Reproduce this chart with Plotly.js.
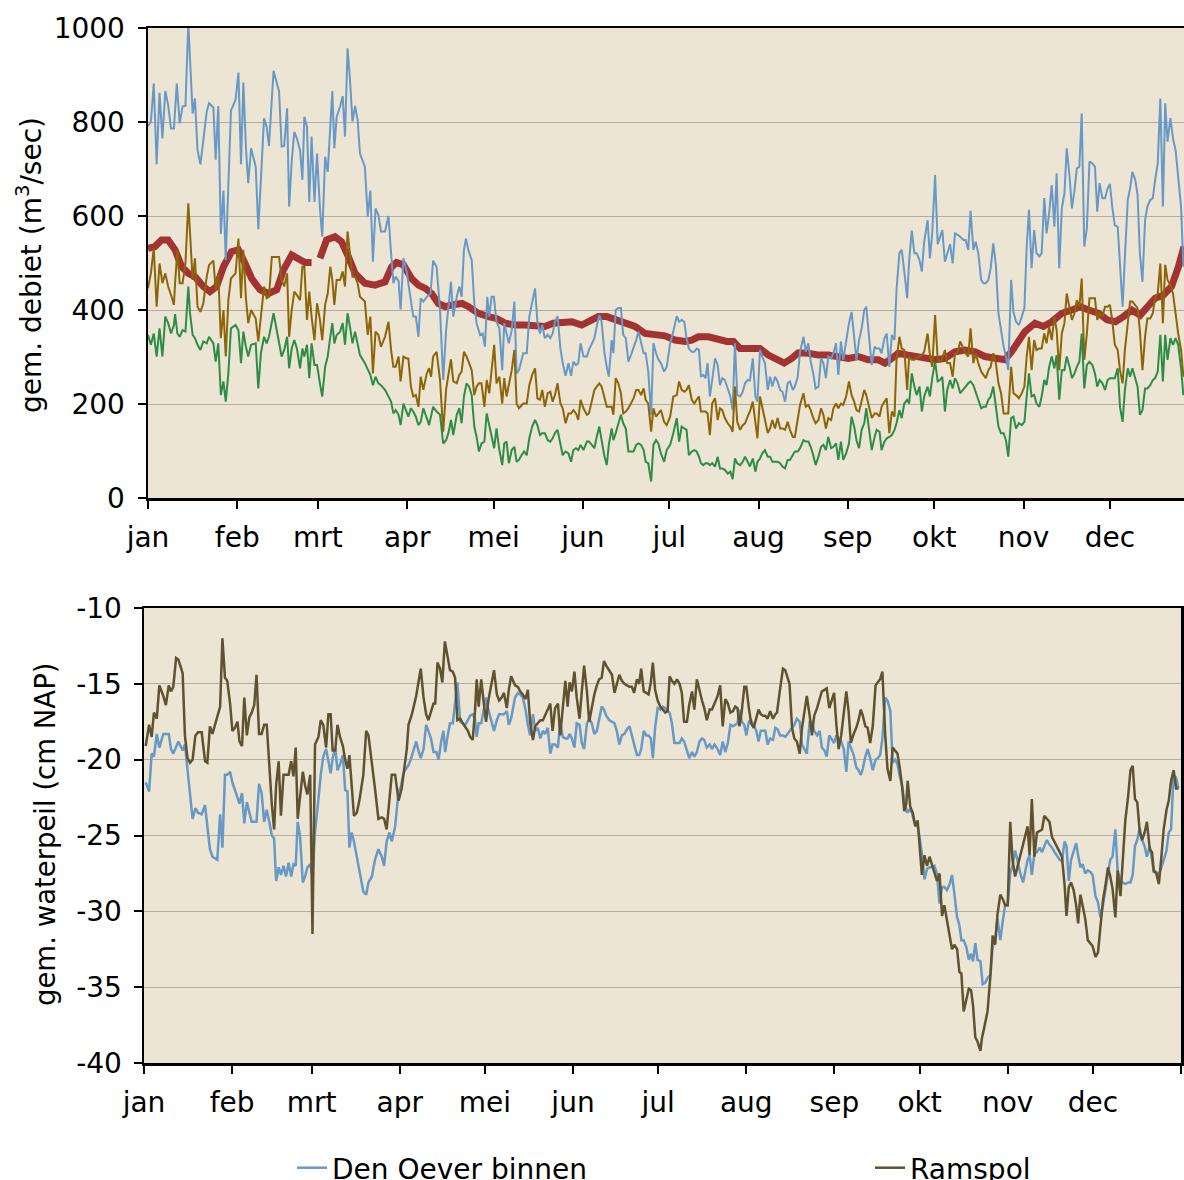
<!DOCTYPE html>
<html>
<head>
<meta charset="utf-8">
<script src="https://cdn.plot.ly/plotly-3.0.1.min.js"></script>
<style>html,body{margin:0;padding:0;background:#fff;}#chart{width:1184px;height:1180px;}</style>
</head>
<body>
<div id="chart"></div>
<script>
// ---------- axis labels ----------
const monthLabels = ['jan','feb','mrt','apr','mei','jun','jul','aug','sep','okt','nov','dec'];
const monthStarts = [0,31,59,90,120,151,181,212,243,273,304,334];
const yearEnd = [365];
const debietTicks = [0,200,400,600,800,1000];
const peilTicks = [-40,-35,-30,-25,-20,-15,-10];
const peilTickText = ['-40','-35','-30','-25','-20','-15','-10'];

// ---------- top chart: gem. debiet (m3/sec), [day of year, value] ----------
const debietBlue = [[0,791],[1,800],[2,882],[3,710],[4,862],[5,765],[6,866],[7,836],[8,786],[9,786],[10,882],[11,797],[12,833],[13,834],[14,1010],[14.6,932],[15.5,818],[16.3,850],[17.2,740],[18.2,710],[19.2,765],[20.4,822],[21.2,840],[22.7,831],[23.5,720],[24.4,834],[25.3,562],[26.2,654],[27,506],[27.9,655],[28.8,824],[30.4,847],[31.4,905],[32.3,710],[33.1,884],[34,746],[34.8,670],[35.8,744],[37.4,705],[38.3,572],[39.2,694],[40.3,808],[41.2,790],[42,749],[43.6,909],[44.7,882],[45.5,865],[46.4,748],[47.3,749],[48.3,829],[49,620],[49.9,716],[50.8,779],[51.7,765],[52.8,740],[53.6,677],[54.3,811],[55.2,790],[56,630],[56.8,769],[57.8,630],[58.7,733],[59.7,616],[60.5,556],[61.5,726],[62.4,694],[63.3,808],[64,866],[64.7,744],[65.5,811],[66.7,833],[67.6,855],[68.4,769],[69.3,957],[70.1,893],[71,801],[71.9,834],[72.8,804],[73.6,733],[75.3,705],[76.3,599],[77.2,654],[78.1,503],[79,616],[80,602],[80.9,567],[82.3,567],[83.5,600],[84.4,521],[85.2,457],[86,471],[87,462],[87.7,401],[88.7,510],[89.8,482],
[90.4,457],[91.3,421],[92.1,386],[93,386],[93.9,343],[94.7,425],[95.6,418],[96.8,428],[98.1,435],[99,505],[100.2,492],[101.4,400],[102.5,251],[103.5,357],[104.3,407],[105.2,460],[106,386],[107.2,428],[108.1,450],[108.9,428],[109.7,528],[110.4,552],[111.2,528],[112.4,506],[113.3,414],[114.1,372],[115.3,347],[116.2,350],[117,322],[117.8,428],[118.5,386],[119.3,428],[120.1,428],[121,375],[122,361],[123,272],[123.7,372],[124.5,347],[125.3,329],[126.3,357],[127.2,418],[128,265],[128.8,272],[130.3,308],[131.5,308],[132.4,386],[133.4,414],[134.4,446],[135.2,375],[136.1,350],[136.9,368],[137.8,340],[138.8,347],[139.7,340],[140.5,350],[141.3,375],[142.2,387],[143.2,318],[144,287],[145,260],[146,287],[146.9,260],[147.7,290],[148.6,283],[149.4,287],[150.2,329],[151.2,301],[152.4,301],[153.1,315],[154.1,329],[155,340],[155.8,365],[156.7,389],[157.5,375],[158.5,308],[159.3,279],[160,258],[161,336],[161.6,308],[162.4,400],[163.3,404],[164.2,404],[165,347],[165.9,340],[166.8,290],[167.7,304],[168.6,318],[169.5,336],[170.3,354],[171.2,333],[172.1,308],[172.8,308],[173.7,269],[174.7,177],[175.5,329],[176.4,308],[177.2,295],[178.1,287],[179.2,269],[180.1,279],
[181.3,329],[182.4,354],[183.6,387],[184.4,375],[185.3,379],[186.2,375],[187,340],[187.8,318],[188.8,311],[189.7,311],[190.5,318],[191.3,315],[192,258],[192.8,262],[193.6,255],[194.3,287],[195.1,216],[195.9,251],[196.9,297],[197.8,283],[198.6,240],[199.4,255],[200.3,251],[201.3,233],[202.2,216],[203,187],[203.8,329],[204.6,219],[205.6,216],[206.5,226],[207.3,244],[208.2,251],[209,250],[210,297],[210.9,216],[211.6,205],[212.5,315],[213.3,301],[214.2,287],[215.2,230],[216,258],[216.8,237],[217.7,258],[218.6,248],[219.5,230],[220.3,226],[221.2,205],[222.1,244],[222.9,248],[223.9,230],[224.6,237],[225.6,258],[226.4,311],[227.6,343],[228.4,311],[229.3,329],[230.1,290],[231,265],[231.8,233],[232.8,237],[233.7,297],[234.5,287],[235.4,255],[236.2,301],[237.2,297],[238,308],[238.9,329],[239.7,262],[240.6,333],[241.4,294],[242.4,333],[243.4,372],[244.3,396],[245.2,347],[246,294],[246.9,336],[247.8,361],[248.7,400],[249.4,407],[250.4,340],[251.3,283],[252.3,322],[253,318],[254,318],[254.7,308],[255.7,340],[256.5,350],[257.4,279],[258.3,347],[259.2,336],[259.9,443],[260.9,521],[261.7,528],[262.6,482],[263.6,425],[264.3,506],[265.2,569],[266.1,521],[266.9,521],[267.9,506],[268.7,482],[269.5,545],[270.7,591],
[271.5,510],[272.3,563],[273.3,687],[274.2,540],[275,555],[275.8,570],[276.7,503],[277.5,521],[278.5,540],[279.4,499],[280.2,563],[281.1,560],[282,556],[283.1,549],[283.9,549],[284.8,528],[285.6,611],[286.6,528],[287.4,545],[288.3,521],[289.3,464],[290.1,457],[290.9,457],[291.8,464],[292.6,489],[293.5,542],[294.4,496],[295.3,393],[296.2,354],[297.1,322],[297.9,301],[298.7,272],[299.7,464],[300.5,396],[301.4,375],[302.4,368],[303.4,386],[304.3,404],[305.1,535],[305.9,613],[306.8,489],[307.7,570],[308.5,521],[309.5,514],[310.3,521],[311.2,638],[312,563],[312.9,606],[313.8,666],[314.7,577],[315.5,691],[316.4,489],[317.3,616],[318.2,648],[319,744],[320,684],[320.8,616],[321.7,655],[322.5,701],[323.4,705],[324.2,818],[325.1,535],[326,574],[326.9,716],[327.9,712],[328.8,705],[329.6,609],[330.4,670],[331.4,638],[332.3,638],[333.2,659],[334,668],[334.8,620],[335.7,580],[336.7,577],[337.5,492],[338.4,407],[339.2,514],[340.2,634],[341,659],[341.8,694],[342.8,677],[343.6,645],[344.4,521],[345.3,460],[346.2,591],[347,620],[348,634],[348.9,638],[349.7,677],[350.6,712],[351.5,850],[352.4,620],[353.2,840],[354,758],[355,808],[355.9,765],[356.8,740],[357.7,684],[358.7,620],[359.5,492]];

const debietOchre = [[0,446],[1,478],[2,531],[3,407],[4,499],[5,457],[6,478],[7,450],[8,432],[9,411],[9.4,457],[10.2,528],[11,457],[12,457],[13,499],[14,627],[14.6,563],[15.5,464],[16.3,510],[17.2,407],[18.2,396],[19.2,414],[20.4,471],[21.2,496],[22.7,505],[23.5,443],[24.4,478],[25.3,340],[26.2,400],[27,301],[27.9,421],[28.8,467],[30.4,478],[31.4,552],[32.3,425],[33.1,528],[34,425],[34.8,372],[35.8,400],[37.4,382],[38.3,333],[39.2,393],[40.3,450],[41.2,425],[42,428],[43,513],[44.1,513],[45.5,513],[46.4,464],[47.3,450],[48.3,478],[49,343],[49.9,400],[50.8,439],[51.7,432],[52.8,421],[53.6,492],[54.3,492],[55.2,379],[56,439],[56.8,386],[57.8,336],[58.7,414],[59.7,379],[60.5,336],[61.5,411],[62.4,435],[63.3,492],[64,464],[64.7,411],[65.5,464],[66.7,464],[67.6,482],[68.4,450],[69.3,567],[70.1,521],[71,471],[71.9,471],[72.8,457],[73.6,428],[75.3,418],[76.3,347],[77.2,386],[78.1,265],[79,354],[80,347],[80.9,322],[82.3,343],[83.5,375],[84.4,315],[85.2,279],[86,279],[87,301],[87.7,248],[88.7,301],[89.8,297],
[90.4,297],[91.3,237],[92.1,216],[93,219],[93.9,194],[94.7,258],[95.6,230],[96.8,265],[97.6,276],[98.3,258],[99,301],[100.2,311],[101.4,251],[102.5,141],[103.5,230],[104.3,262],[105.2,295],[106,248],[107.2,244],[108.1,262],[108.9,269],[109.7,311],[110.6,301],[111.5,287],[112.4,272],[113.3,219],[114.1,237],[114.9,244],[115.8,244],[116.8,194],[117.6,251],[118.5,223],[119.3,272],[120.2,326],[121,244],[122,258],[123,201],[123.7,255],[124.5,216],[125.3,244],[126.3,272],[127.2,315],[128,201],[128.8,191],[130.3,201],[131.5,201],[132.4,240],[133.4,262],[134.4,276],[135.2,212],[136.1,209],[136.9,230],[137.8,194],[138.8,223],[139.7,226],[140.5,205],[141.3,219],[142.2,244],[143.2,201],[144,191],[145,159],[146,180],[146.9,180],[147.7,187],[148.6,180],[149.4,166],[150.2,209],[151.2,191],[152.4,177],[153.1,180],[154.1,209],[155,230],[155.8,237],[156.7,244],[157.5,237],[158.5,216],[159.3,194],[160,194],[161,194],[161.6,177],[162.4,255],[163.3,244],[164.2,223],[165,180],[165.9,184],[166.8,191],[167.7,201],[168.6,212],[169.5,230],[170.3,230],[171.2,219],[172.1,233],[172.8,209],[173.7,201],[174.7,141],[175.5,191],[176.4,173],[177.2,180],[178.1,187],[179.2,162],[180.1,155],
[181.3,173],[182.4,216],[183.6,219],[184.4,248],[185.3,230],[186.2,226],[187,230],[187.8,240],[188.8,209],[189.7,201],[190.5,209],[191.3,216],[192,184],[192.8,184],[193.6,184],[194.3,180],[195.1,134],[195.9,201],[196.9,212],[197.8,166],[198.6,191],[199.4,187],[200.3,170],[201.3,159],[202.2,152],[203,141],[203.8,237],[204.6,162],[205.6,145],[206.5,155],[207.3,159],[208.2,173],[209,184],[210,205],[210.9,166],[211.6,127],[212.5,216],[213.3,191],[214.2,170],[215.2,138],[216,148],[216.8,166],[217.7,148],[218.6,170],[219.5,148],[220.3,148],[221.2,145],[222.1,162],[222.9,145],[223.9,130],[224.6,130],[225.6,166],[226.4,198],[227.6,223],[228.4,194],[229.3,198],[230.1,187],[231,170],[231.8,159],[232.8,166],[233.7,191],[234.5,177],[235.4,148],[236.2,170],[237.2,166],[238,191],[238.9,201],[239.7,191],[240.6,201],[241.4,198],[242.4,216],[243.4,248],[244.3,219],[245.2,205],[246,187],[246.9,184],[247.8,209],[248.7,230],[249.4,219],[250.4,194],[251.3,170],[252.3,180],[253,180],[254,173],[254.7,194],[255.7,205],[256.5,212],[257.4,138],[258.3,184],[259.2,173],[259.9,294],[260.9,343],[261.7,318],[262.6,315],[263.6,230],[264.3,301],[265.2,294],[266.1,294],[266.9,297],[267.9,301],[268.7,304],[269.5,311],[270.7,350],
[271.5,304],[272.3,279],[273.3,389],[274.2,294],[275,290],[275.8,297],[276.7,315],[277.5,287],[278.5,287],[279.4,258],[280.2,308],[281.1,308],[282,333],[283.1,318],[283.9,308],[284.8,301],[285.6,361],[286.6,287],[287.4,308],[288.3,287],[289.3,269],[290.1,262],[290.9,255],[291.8,272],[292.6,279],[293.5,308],[294.4,287],[295.3,244],[296.2,223],[297.1,180],[297.9,180],[298.7,180],[299.7,279],[300.5,223],[301.4,219],[302.4,212],[303.4,223],[304.3,237],[305.1,301],[305.9,343],[306.8,272],[307.7,336],[308.5,315],[309.5,318],[310.3,318],[311.2,350],[312,329],[312.9,365],[313.8,336],[314.7,386],[315.5,357],[316.4,272],[317.3,350],[318.2,372],[319,435],[320,400],[320.8,379],[321.7,393],[322.5,421],[323.4,407],[324.2,467],[325.1,294],[326,350],[326.9,425],[327.9,425],[328.8,425],[329.6,379],[330.4,393],[331.4,386],[332.3,407],[333.2,407],[334,411],[334.8,379],[335.7,326],[336.7,315],[337.5,272],[338.4,244],[339.2,315],[340.2,372],[341,418],[341.8,418],[342.8,411],[343.6,404],[344.4,357],[345.3,272],[346.2,343],[347,382],[348,382],[348.9,393],[349.7,428],[350.6,435],[351.5,499],[352.4,372],[353.2,496],[354,464],[355,453],[355.9,435],[356.8,393],[357.7,350],[358.7,315],[359.5,258]];

const debietGreen = [[0,347],[1,326],[2,350],[3,301],[4,361],[5,301],[6,386],[7,372],[8,350],[9,368],[9.4,391],[10.2,350],[11,343],[12,357],[13,354],[14,450],[14.6,393],[15.5,347],[16.3,340],[17.2,326],[18.2,315],[19.2,333],[20.4,329],[21.2,343],[22.7,329],[23.5,290],[24.4,329],[25.3,219],[26.2,248],[27,205],[27.9,265],[28.8,361],[30.4,368],[31.4,357],[32.3,287],[33.1,354],[34,322],[34.8,301],[35.8,326],[37.4,329],[38.3,233],[39.2,308],[40.3,343],[41.2,329],[42,343],[43.6,393],[44.7,357],[46.4,301],[47.3,315],[48.3,343],[49,276],[49.9,318],[50.8,336],[51.7,318],[52.8,276],[53.6,318],[54.3,301],[55.2,326],[56,255],[56.8,329],[57.8,283],[58.7,283],[59.7,244],[60.5,216],[61.5,279],[62.4,301],[63.3,343],[64,372],[64.7,329],[65.5,347],[66.7,354],[67.6,372],[68.4,326],[69.3,393],[70.1,365],[71,329],[71.9,354],[72.8,329],[73.6,304],[75.3,287],[76.3,272],[77.2,262],[78.1,240],[79,258],[80,244],[80.9,240],[82.3,230],[83.5,216],[84.4,205],[85.2,180],[86,187],[87,177],[87.7,155],[88.7,201],[89.8,184],
[90.4,173],[91.3,191],[92.1,184],[93,173],[93.9,155],[94.7,162],[95.6,191],[96.8,170],[97.6,155],[99,194],[100.2,184],[101.4,177],[102.5,116],[103.5,123],[104.3,138],[105.2,166],[106,134],[107.2,177],[108.1,191],[108.9,159],[109.7,216],[110.6,244],[111.5,237],[112.4,219],[113.3,152],[114.1,130],[114.9,99],[115.8,116],[116.8,120],[117.6,180],[118.5,155],[119.3,127],[120.2,106],[121,148],[122,102],[123,70],[123.7,116],[124.5,120],[125.3,74],[126.3,102],[127.2,109],[128,77],[128.8,81],[129.7,91],[130.6,99],[131.5,91],[132.4,127],[133.4,152],[134.4,166],[135.2,155],[136.1,134],[136.9,138],[137.8,138],[138.8,123],[139.7,120],[140.5,127],[141.3,138],[142.2,145],[143.2,116],[144,91],[145,99],[146,95],[146.9,77],[147.7,102],[148.6,106],[149.4,102],[150.2,113],[151.2,102],[152.4,120],[153.1,120],[154.1,113],[155,106],[155.8,130],[156.7,152],[157.5,123],[158.5,88],[159.3,70],[160,113],[161,148],[161.6,123],[162.4,138],[163.3,159],[164.2,177],[165,159],[165.9,148],[166.8,99],[167.7,99],[168.6,99],[169.5,113],[170.3,116],[171.2,113],[172.1,102],[172.8,77],[173.7,74],[174.7,35],[175.5,113],[176.4,123],[177.2,116],[178.1,95],[179.2,77],[180.1,102],
[181.3,113],[182.4,138],[183.6,170],[184.4,120],[185.3,152],[186.2,148],[187,145],[187.8,91],[188.8,99],[189.7,102],[190.5,99],[191.3,88],[192,74],[192.8,70],[193.6,74],[194.3,74],[195.1,70],[195.9,74],[196.9,67],[197.8,88],[198.6,63],[199.4,63],[200.3,60],[201.3,52],[202.2,56],[203,40],[203.8,84],[204.6,74],[205.6,70],[206.5,77],[207.3,88],[208.2,77],[209,67],[210,84],[210.9,56],[211.6,77],[212.5,84],[213.3,95],[214.2,102],[215.2,88],[216,88],[216.8,77],[217.7,77],[218.6,77],[219.5,74],[220.3,67],[221.2,63],[222.1,81],[222.9,81],[223.9,91],[224.6,99],[225.6,99],[226.4,106],[227.6,123],[228.4,120],[229.3,120],[230.1,109],[231,91],[231.8,70],[232.8,88],[233.7,109],[234.5,113],[235.4,102],[236.2,130],[237.2,106],[238,109],[238.9,116],[239.7,81],[240.6,120],[241.4,81],[242.4,95],[243.4,116],[244.3,173],[245.2,152],[246,123],[246.9,106],[247.8,145],[248.7,159],[249.4,191],[250.4,145],[251.3,102],[252.3,130],[253,145],[254,141],[254.7,102],[255.7,120],[256.5,127],[257.4,130],[258.3,134],[259.2,145],[259.9,159],[260.9,187],[261.7,170],[262.6,201],[263.6,209],[264.3,201],[265.2,265],[266.1,237],[266.9,219],[267.9,237],[268.7,184],[269.5,216],[270.7,237],
[271.5,216],[272.3,255],[273.3,290],[274.2,248],[275,251],[275.8,258],[276.7,184],[277.5,230],[278.5,251],[279.4,233],[280.2,255],[281.1,244],[282,223],[283.1,230],[283.9,237],[284.8,244],[285.6,248],[286.6,240],[287.4,226],[288.3,212],[289.3,191],[290.1,194],[290.9,194],[291.8,209],[292.6,216],[293.5,237],[294.4,194],[295.3,152],[296.2,138],[297.1,138],[297.9,123],[298.7,88],[299.7,170],[300.5,173],[301.4,148],[302.4,159],[303.4,155],[304.3,162],[305.1,216],[305.9,265],[306.8,216],[307.7,219],[308.5,201],[309.5,194],[310.3,216],[311.2,251],[312,240],[312.9,279],[313.8,301],[314.7,276],[315.5,304],[316.4,209],[317.3,272],[318.2,272],[319,301],[320,279],[320.8,255],[321.7,265],[322.5,279],[323.4,290],[324.2,350],[325.1,233],[326,283],[326.9,290],[327.9,283],[328.8,265],[329.6,237],[330.4,251],[331.4,244],[332.3,230],[333.2,251],[334,255],[334.8,255],[335.7,255],[336.7,276],[337.5,194],[338.4,162],[339.2,230],[340.2,276],[341,258],[341.8,276],[342.8,255],[343.6,237],[344.4,177],[345.3,187],[346.2,233],[347,233],[348,240],[348.9,251],[349.7,255],[350.6,269],[351.5,347],[352.4,248],[353.2,347],[354,294],[355,340],[355.9,326],[356.8,340],[357.7,326],[358.7,276],[359.5,219]];

const debietSmooth = [[0,531],[2.4,535],[4.7,549],[7,549],[9.4,528],[11.7,492],[14,478],[16.3,471],[19.2,450],[21.5,439],[23.8,450],[26.2,492],[29,524],[31.4,528],[33.7,499],[36,467],[38.9,443],[41.8,435],[44.7,443],[47,485],[49.9,517],[52.2,510],[54.5,501],[56.8,501],[58,null],[59.7,510],[62,549],[64.9,556],[67.2,545],[69.6,513],[71.9,478],[75.3,457],[78.8,453],[82.3,460],[84.6,492],[86.3,501],[88.7,496],[91.5,467],[93.9,453],[96.3,446],[98.5,435],[100.8,414],[103.2,407],[105.5,411],[109,414],[111.3,407],[114.7,393],[118.2,386],[121,382],[124,372],[127.5,368],[130.9,368],[134.4,365],[137.8,365],[140.7,372],[143.6,375],[147.1,375],[150.6,368],[153.5,379],[156.4,386],[159.3,386],[162.1,379],[165.6,372],[169.1,365],[172.6,350],[176,347],[179.5,345],[183,336],[186.5,333],[188.8,336],[191.1,343],[194.6,343],[198.1,336],[201,333],[203.3,333],[205.6,318],[208.5,318],[212.5,318],[215.4,304],[218.3,294],[220.9,287],[223.5,297],[225.8,309],[229.3,308],[232.8,304],[236.2,304],[239.7,301],[243.2,297],[246.6,301],[250.1,294],[253.6,294],[255.9,287],[258.2,297],[260.5,308],[264,304],[267.5,301],[270.5,297],[273.3,294],[276.7,297],[280.2,311],[283.7,315],[287.2,311],[290.6,301],[294.1,297],[297.5,294],[299.8,311],[302.2,336],[304.5,354],[308,372],[310.9,365],[313.8,375],[317.3,393],[320.8,400],[323.7,407],[326.6,400],[330.1,393],[333,379],[335.9,375],[338.7,386],[341.6,400],[344.5,389],[346.8,407],[349.7,425],[352.6,432],[355.4,450],[357.8,492],[359.7,535]];

// ---------- bottom chart: gem. waterpeil (cm NAP), [day of year, value] ----------
const peilDenOever = [[0.6,-21.5],[1.8,-22.1],[2.7,-19.6],[3.5,-19.8],[4.5,-18.3],[5.4,-19.2],[6.8,-18.3],[7.7,-18.3],[8.7,-18.3],[9.5,-19.3],[10.3,-19.6],[12.1,-18.8],[13.6,-19.4],[14.4,-19],[15.3,-20.6],[16.2,-22.2],[17.1,-23.9],[18.1,-23.2],[19,-23.5],[20.3,-23.6],[21.5,-23],[22.3,-24.4],[23.2,-25.9],[24.1,-26.4],[25,-26.5],[25.8,-26.6],[26.8,-23.6],[27.6,-25.8],[28.5,-21],[29.3,-21],[30.3,-20.8],[31.1,-21.5],[32,-22],[32.9,-22.6],[33.6,-22.9],[34.5,-22.2],[35.3,-24.2],[36.2,-22.8],[37.1,-23.6],[37.9,-24.1],[38.8,-24.1],[39.6,-24.1],[40.5,-21.6],[41.4,-22.2],[42.3,-24.1],[43.2,-23.3],[44.1,-24.1],[45,-25],[45.8,-25.2],[46.5,-28],[47.4,-27.1],[48.2,-27.6],[49.1,-27],[50,-27.7],[50.9,-26.8],[51.8,-27.7],[52.6,-26.9],[53.4,-27],[54.1,-24.1],[54.9,-25],[55.9,-28.1],[56.7,-27.7],[57.5,-27.1],[58.5,-26.9],[59.3,-27.7],[60.2,-24.8],[61.4,-22.6],[62.2,-21],[63.1,-19.8],[64.1,-19.3],[64.9,-20.1],[65.7,-20.9],[66.4,-19.9],[67.3,-19.2],[68.1,-20.7],[69,-20.3],[70,-19.7],[70.8,-22],[71.6,-22.1],[72.3,-25.8],[73.1,-24.8],[73.9,-25.4],[74.9,-26.4],[75.8,-27.3],[77.2,-28.7],[78.2,-28.9],[79,-28.1],[80.2,-27.7],[81.3,-26.6],[82.5,-25.9],[83.7,-26.4],[84.5,-27],[85.4,-25.4],[86.4,-24.8],[87.2,-25.4],[88.4,-24.4],[89.6,-22.1],
[90.4,-21.8],[91.3,-20.9],[92.2,-20.6],[93,-20.4],[93.9,-20],[94.8,-19.5],[95.8,-18.8],[96.6,-19.4],[97.4,-19.9],[98.4,-19.3],[99.3,-17.7],[100.1,-18.1],[101,-18.6],[101.9,-19.5],[102.9,-19.5],[103.7,-20],[104.6,-18.8],[105.4,-18.1],[106,-19.5],[106.9,-18.4],[107.7,-17.6],[108.7,-17.6],[109.5,-16.1],[110.3,-14.9],[111.3,-17.5],[112.2,-17.6],[113.1,-17.7],[114,-17.4],[114.8,-17.1],[115.7,-17],[116.5,-17.3],[117.1,-18.5],[117.8,-17.6],[118.7,-17.6],[119.5,-16.9],[120.4,-15.9],[121.2,-16.7],[122.2,-17.4],[123.2,-18.1],[124.2,-17.4],[125,-17],[125.9,-17],[126.7,-17],[127.7,-16.8],[128.4,-17.7],[129.2,-17.3],[129.9,-16.5],[130.6,-15.9],[131.6,-15.6],[132.4,-15.7],[133.3,-15.9],[134.3,-16.7],[135.1,-17.7],[135.9,-18.4],[136.9,-17],[137.7,-18.1],[138.6,-17.9],[139.5,-18.6],[140.4,-18.1],[141.2,-18.3],[142.1,-17.9],[143,-19.6],[143.8,-19],[144.7,-19],[145.7,-19.2],[146.5,-17.5],[147.4,-18.5],[148.3,-18.6],[149.1,-18.6],[149.8,-18.3],[150.6,-18.6],[151.5,-19.2],[152.3,-17.6],[153.3,-17.7],[154.1,-18.9],[154.9,-19.3],[155.9,-17.6],[156.7,-17.3],[157.6,-17.6],[158.5,-18.3],[159.4,-18.1],[160.2,-17.4],[161.1,-16.5],[161.9,-16.7],[162.7,-17.1],[163.8,-17.4],[164.7,-17.5],[165.6,-17.6],[166.4,-18.1],[167.3,-19],[168.2,-18.4],[169.1,-18.3],[170,-18],[170.9,-17.8],[171.7,-18.4],[172.5,-19],[173.5,-19.7],[174.3,-19.7],[175,-19.3],[175.9,-18.1],[176.8,-18.4],[177.6,-18.4],[178.4,-18.6],[179.1,-19.9],[179.9,-17.9],[180.8,-16.6],[181.7,-16.7],[182.6,-16.5],[183.5,-16.6],[184.3,-16.8],[185,-16.9],[185.8,-17.6],[186.7,-18.9],[187.6,-18.9],[188.5,-18.9],[189.3,-18.6],[190.1,-18.8],[191.1,-19.4],[191.9,-19.9],[192.9,-19.5],[193.7,-19.8],[194.6,-19.5],[195.5,-18.8],[196.4,-18.6],[197.2,-18.7],[198.1,-19.2],[199.1,-19],[199.9,-19.3],[200.8,-19],[201.9,-19.3],[202.8,-19.7],[203.7,-18.8],[204.6,-19.5],[205.5,-18.9],[206.4,-17.7],[207.3,-17.8],[208.1,-17.7],[208.9,-17.6],[209.6,-16.7],[210.4,-17.5],[211.3,-17.7],[212,-18.4],[212.9,-17.5],[213.7,-17.4],[214.6,-17.7],[215.5,-18.1],[216.3,-18.8],[217.1,-18.1],[217.9,-18.1],[218.7,-18.1],[219.5,-19],[220.4,-18.6],[221.4,-18.7],[222.2,-17.9],[223,-18],
[223.9,-18.4],[224.9,-18.4],[225.7,-18.5],[226.5,-18.3],[227.2,-18.1],[228.1,-17.9],[228.9,-17.7],[229.8,-17.3],[230.8,-17.5],[231.6,-19],[232.4,-19.3],[233.3,-19.6],[234.3,-17.5],[235.1,-17.5],[235.9,-18.1],[236.9,-18.4],[237.8,-18.1],[238.6,-19.2],[239.5,-19.4],[240.3,-19.8],[241.2,-18.4],[242,-18.6],[242.9,-18.9],[243.7,-18.4],[244.5,-18.6],[245.4,-18.8],[246.3,-19.3],[247.2,-20.8],[248,-18.8],[248.8,-19.2],[249.8,-19.7],[250.7,-20.5],[251.5,-20.7],[252.3,-21],[253,-20.6],[253.9,-19.8],[254.7,-19.3],[255.6,-19.9],[256.5,-20.7],[257.5,-20],[258.3,-19.9],[259.1,-19.7],[259.9,-18.6],[260.9,-15.9],[261.7,-16.1],[262.7,-16.8],[263.5,-20.2],[264.4,-20],[265.2,-20.3],[265.9,-21],[266.8,-21.7],[267.6,-22.6],[268.6,-23.5],[269.4,-23.3],[270.3,-23.5],[271.2,-24.2],[272.1,-24.2],[273,-25.1],[273.8,-26.2],[274.7,-27.9],[275.6,-27.2],[276.5,-27.1],[277.3,-27.1],[278.2,-27],[279.1,-27.5],[280,-29.5],[280.9,-28.4],[281.7,-28.4],[282.6,-28.6],[283.6,-28.2],[284.4,-27.6],[285.2,-28.8],[286.2,-30.4],[287,-30.9],[287.7,-31.9],[288.5,-31.9],[289.5,-32.4],[290.3,-33.2],[291.1,-32.8],[291.8,-33.3],[292.6,-32.1],[293.4,-33.2],[294.4,-33.3],[295.2,-34.8],[296.1,-34.7],[296.9,-34.4],[297.9,-34.2],[298.7,-32.4],[299.6,-31.8],[300.4,-30.5],[301.4,-31.9],[302.3,-30.6],[303.1,-29.6],[304,-29.6],[304.9,-27.5],[305.7,-27],[306.6,-26],[307.4,-26.6],[308.3,-27.4],[309.4,-28.1],[310.2,-27.4],[311,-26.6],[311.7,-26.3],[312.5,-27.6],[313.4,-26.2],[314.3,-26.1],[315.3,-25.8],[316.1,-26.1],[316.9,-25.7],[317.8,-25.3],[318.7,-25.6],[319.6,-25.8],[320.5,-26.1],[321.4,-26.4],[322.3,-26.6],[323.1,-26.7],[324,-25.4],[324.7,-25.7],[325.5,-28],[326.3,-26.6],[327.2,-26],[328.1,-25.5],[328.8,-26.3],[329.6,-27.1],[330.4,-26.9],[331.3,-27.5],[332.2,-27.3],[333.1,-27.4],[333.9,-27.6],[334.9,-29],[335.8,-29.4],[336.6,-30.4],[337.6,-29.5],[338.4,-28.5],[339.3,-27.7],[340.1,-26.6],[340.9,-26.4],[341.9,-24.6],[342.7,-27.3],[343.7,-28],[344.5,-28.1],[345.4,-28.2],[346.4,-28.1],[347.2,-28.1],[348,-27.6],[348.8,-25.7],[349.6,-25.3],[350.5,-24.5],[351.3,-25.3],[352.2,-25.7],[353,-26.4],[354,-25.7],[354.8,-26.6],[355.4,-27.4],[356.3,-27.4],[357.2,-27.6],[358.1,-27.1],[358.9,-26.6],[359.9,-26],[360.7,-24.8],[361.5,-24.6],[362.4,-21],[363.3,-21.2],[364.1,-21.9]];

const peilRamspol = [[0.6,-19.1],[1.8,-17.7],[2.7,-18.5],[3.5,-16.9],[4.5,-17.3],[5.4,-15.1],[6.8,-15.8],[7.7,-16.4],[8.7,-15.1],[9.5,-15.5],[10.3,-15.2],[11.3,-13.3],[12.1,-13.4],[13.6,-14.3],[14.4,-18.4],[15.3,-19.9],[16.2,-20.2],[17.1,-20],[18.1,-18.4],[19,-18.2],[20.3,-18.2],[21.5,-20.1],[22.3,-20.2],[23.2,-17.8],[24.1,-18.3],[25,-17.7],[25.8,-17.2],[26.8,-16.5],[27.6,-12],[28.5,-14.6],[29.3,-14.8],[30.3,-16.3],[31.1,-18.1],[32,-17.9],[32.9,-17.5],[33.6,-18.8],[34.5,-19.1],[35.3,-15.9],[36.2,-18.4],[37.1,-17.2],[37.9,-16.9],[38.8,-16.4],[39.6,-14.4],[40.5,-18.3],[41.4,-18.3],[42.3,-17.7],[43.2,-17.7],[44.1,-20.6],[45,-23],[45.8,-24.6],[46.5,-21.7],[47.4,-20.1],[48.2,-23.7],[49.1,-21],[50,-21],[50.9,-21],[51.8,-20.1],[52.6,-21.1],[53.4,-19.2],[54.1,-23.9],[54.9,-22.5],[55.9,-20.8],[56.7,-21.7],[57.5,-22.3],[58.5,-21],[59.3,-31.5],[60.2,-19],[61.4,-18.5],[62.2,-17.4],[63.1,-17.7],[64.1,-19.2],[64.9,-17],[65.7,-17],[66.4,-19.4],[67.3,-19.4],[68.1,-17.7],[69,-18.5],[70,-19.1],[70.8,-20],[71.6,-20.6],[72.3,-19.7],[73.1,-21.9],[73.9,-23.7],[74.9,-23.5],[75.8,-22.7],[77.2,-21],[78.2,-18.1],[79,-18.4],[80.2,-20.1],[81.3,-21.9],[82.5,-23.9],[83.7,-23.8],[84.5,-23.9],[85.4,-24.6],[86.4,-22.6],[87.2,-21],[88.4,-21],[89.6,-22.7],
[90.7,-21.9],[91.6,-20.6],[92.5,-19.3],[93.1,-17.7],[94.3,-17],[95.8,-15.8],[96.6,-15],[97.4,-14],[98.4,-15.9],[99.3,-17],[100.1,-17.4],[101,-16.8],[101.9,-16.3],[102.5,-16.3],[103.3,-13.6],[104.2,-14],[105,-14.9],[105.9,-12.2],[106.9,-13.2],[107.7,-14.1],[108.7,-14.2],[109.5,-14.6],[110.3,-17.4],[111.3,-17.3],[112.2,-17.6],[113.1,-17.9],[114,-18.1],[114.8,-18.5],[115.7,-18.7],[116.5,-16.8],[117.1,-14.7],[117.8,-16.5],[118.7,-14.7],[119.5,-16.1],[120.4,-17.5],[121.2,-16.1],[122.2,-15.2],[123.2,-14.1],[124.2,-15.7],[125,-16.1],[125.9,-15.9],[126.7,-15.6],[127.7,-16.6],[128.4,-15.4],[129.2,-14.5],[129.9,-14.8],[130.6,-15.1],[131.6,-15.2],[132.4,-15.5],[133.3,-15.7],[134.3,-16],[135.1,-15.4],[135.9,-17.5],[136.9,-18.7],[137.7,-17.8],[138.6,-17.6],[139.5,-17.4],[140.4,-17.4],[141.2,-17.1],[142.1,-16.7],[143,-16.3],[143.8,-18.1],[144.7,-16.6],[145.7,-16.3],[146.5,-18.4],[147.4,-16.6],[148.3,-14.8],[149.1,-16.5],[149.8,-14.9],[150.6,-15.5],[151.5,-14.2],[152.3,-15.9],[153.3,-17.3],[154.1,-15.5],[154.9,-13.8],[155.9,-15.5],[156.7,-17.5],[157.6,-16.6],[158.5,-15.7],[159.4,-15.1],[160.2,-14.7],[161.1,-14.6],[161.9,-13.5],[162.7,-13.8],[163.8,-14.1],[164.7,-14.4],[165.6,-15.6],[166.4,-15],[167.3,-14.4],[168.2,-14.8],[169.1,-15],[170,-15.1],[170.9,-15.2],[171.7,-15.2],[172.5,-15.6],[173.5,-14.7],[174.3,-15],[175,-14],[175.9,-15.5],[176.8,-15.6],[177.6,-15.7],[178.4,-14.9],[179.1,-13.6],[179.9,-15.4],[180.8,-16.1],[181.7,-16.5],[182.6,-16.7],[183.5,-16.9],[184.3,-16.8],[185,-14.5],[185.8,-14.8],[186.7,-15],[187.6,-14.7],[188.5,-15],[189.3,-15.6],[190.1,-17.5],[191.1,-17.5],[191.9,-16.4],[192.9,-15.5],[193.7,-16.7],[194.6,-14.7],[195.5,-15.5],[196.4,-16.1],[197.2,-16.6],[198.1,-17.4],[199.1,-16.7],[199.9,-16.7],[200.8,-16.3],[201.9,-15.8],[202.8,-15.1],[203.7,-17.8],[204.6,-16],[205.5,-16.3],[206.4,-16.9],[207.3,-16.8],[208.1,-16.5],[208.9,-16.6],[209.6,-17.8],[210.4,-16.8],[211.3,-15.2],[212,-15.2],[212.9,-16.6],[213.7,-17.6],[214.6,-17.9],[215.5,-17.3],[216.3,-16.7],[217.1,-17],[217.9,-17.1],[218.7,-17.1],[219.5,-17.3],[220.4,-16.8],[221.4,-17.3],[222.2,-17],[222.8,-16.9],[223.7,-15.6],
[224.9,-14],[225.7,-14.1],[226.5,-14.6],[227.2,-15],[228.1,-17.9],[228.9,-18.6],[229.8,-18.8],[230.8,-19.6],[231.6,-17.9],[232.4,-16.8],[233.3,-15.8],[234.3,-17.1],[235.1,-18.4],[235.9,-17.1],[236.9,-16.6],[237.8,-16],[238.6,-15.5],[239.5,-15.4],[240.3,-15.3],[241.2,-16.6],[242,-16.1],[242.9,-15.6],[243.7,-17.7],[244.5,-19.3],[245.4,-18.4],[246.3,-17.1],[247.2,-15.5],[248,-16.8],[248.8,-18.9],[249.8,-18.3],[250.7,-17.9],[251.5,-17.4],[252.3,-16.7],[253,-17.1],[253.9,-17.8],[254.7,-17.9],[255.6,-18.9],[256.5,-17.8],[257.5,-15.1],[258.3,-14.9],[259.1,-14.7],[259.9,-14.2],[260.9,-18.4],[261.7,-20.6],[262.7,-21.4],[263.5,-19.2],[264.4,-19.4],[265.2,-19.6],[265.9,-20.4],[266.8,-21.7],[267.6,-23.4],[268.3,-22.9],[268.8,-21.4],[269.7,-23.1],[270.6,-23.5],[271.5,-24.4],[272.3,-24],[273,-25.7],[273.8,-27.6],[274.7,-26.3],[275.6,-27],[276.5,-26.4],[277.3,-26.9],[278.2,-27.3],[279.1,-28],[280,-27.5],[280.9,-30.3],[281.7,-29.6],[282.6,-30.6],[283.6,-31.5],[284.4,-32.5],[285.2,-32.2],[286.2,-32.5],[287,-34],[287.7,-34.1],[288.5,-36.6],[289.5,-35.8],[290.3,-35.1],[291.1,-35.2],[291.8,-36.2],[292.6,-38.3],[293.4,-38.6],[294.4,-39.2],[294.9,-38.4],[295.7,-37.7],[296.9,-36.6],[297.9,-34.3],[298.7,-31.6],[299.6,-32.2],[300.4,-30.2],[301.4,-28.9],[302.3,-29.2],[303.1,-29.6],[304,-29.6],[304.9,-24.1],[305.7,-26.6],[306.6,-27.7],[307.4,-27.1],[308.3,-26.6],[309.4,-25.7],[310.2,-25.1],[311,-24.4],[311.7,-26.3],[312.5,-22.6],[313.4,-26.4],[314.3,-24.8],[315.3,-24.7],[316.1,-24.6],[316.9,-23.7],[317.8,-23.9],[318.7,-24.1],[319.6,-25.1],[320.5,-25.4],[321.4,-25.7],[322.3,-26.1],[323.1,-26.4],[324,-28.2],[324.7,-30.3],[325.5,-28.4],[326.3,-28.1],[327.2,-28.6],[328.1,-29.6],[328.8,-30.8],[329.6,-28.9],[330.4,-29.6],[331.3,-30.5],[332.2,-31.9],[333.1,-32.1],[333.9,-32.3],[334.9,-33],[335.8,-32.7],[336.6,-31.1],[337.6,-29.2],[338.4,-28.3],[339.3,-27.1],[340.1,-27.7],[340.9,-28.5],[341.9,-30.4],[342.7,-27.3],[343.7,-29],[344.5,-26.4],[345.4,-24],[346.4,-22.4],[347.2,-20.7],[348,-20.4],[348.8,-22.6],[349.6,-22.8],[350.5,-24.8],[351.3,-25.3],[352.2,-24.8],[353,-24.1],[354,-25.9],[354.8,-26.1],[355.4,-27.3],[356.3,-27.5],[357.2,-28.2],[358.1,-26.4],[358.9,-24.6],[359.9,-23.3],[360.7,-22.7],[361.5,-21.4],[362.4,-20.7],[363.3,-21.9],[364.1,-21.9]];

// ---------- build ----------
const W = 1184, H = 1180;
const FONT = 'DejaVu Sans, Verdana, sans-serif';
const xs = a => a.map(p => p[0]);
const ys = a => a.map(p => p[1]);

function line(data, color, width, xa, ya, name, showlegend) {
  return {x: xs(data), y: ys(data), type: 'scatter', mode: 'lines', xaxis: xa, yaxis: ya,
    name: name || '', showlegend: !!showlegend, connectgaps: false, hoverinfo: 'skip',
    line: {color: color, width: width}};
}

const traces = [
  line(debietSmooth, '#A33332', 7, 'x', 'y'),
  line(debietBlue, '#6899C6', 2, 'x', 'y'),
  line(debietOchre, '#8B6508', 2, 'x', 'y'),
  line(debietGreen, '#2E8B48', 2, 'x', 'y'),
  line(peilDenOever, '#6899C6', 2.5, 'x2', 'y2', 'Den Oever binnen', true),
  line(peilRamspol, '#5F5230', 2.5, 'x2', 'y2', 'Ramspol', true)
];

const tickFont = {family: FONT, size: 28, color: '#000'};
const gridC = '#B2ADA3';
const axisCommon = {showline: true, linecolor: '#000', linewidth: 2.5, ticks: 'outside', ticklen: 8,
  tickwidth: 2, tickcolor: '#000', tickfont: tickFont, zeroline: false, fixedrange: true};

const layout = {
  width: W, height: H,
  margin: {l: 0, r: 0, t: 0, b: 0, autoexpand: false},
  paper_bgcolor: '#fff', plot_bgcolor: '#ECE5D3',
  font: {family: FONT, size: 28, color: '#000'},
  showlegend: true,
  xaxis: Object.assign({}, axisCommon, {
    domain: [148/W, 1], range: [0, 1036/2.88], anchor: 'y',
    tickmode: 'array', tickvals: monthStarts, ticktext: monthLabels,
    showgrid: false, mirror: true, ticklabelstandoff: 5
  }),
  yaxis: Object.assign({}, axisCommon, {
    domain: [1 - 498/H, 1 - 28/H], range: [0, 1000], anchor: 'x',
    tickmode: 'array', tickvals: debietTicks, ticktext: debietTicks.map(String),
    showgrid: true, gridcolor: gridC, gridwidth: 1, ticklabelstandoff: 7
  }),
  xaxis2: Object.assign({}, axisCommon, {
    domain: [144/W, 1181/W], range: [0, 365], anchor: 'y2',
    tickmode: 'array', tickvals: monthStarts, ticktext: monthLabels,
    minor: {tickmode: 'array', tickvals: yearEnd, ticks: 'outside', ticklen: 8, tickwidth: 2, tickcolor: '#000', showgrid: false},
    showgrid: false, mirror: true, ticklabelstandoff: 5
  }),
  yaxis2: Object.assign({}, axisCommon, {
    domain: [1 - 1063/H, 1 - 608/H], range: [-40, -10], anchor: 'x2',
    tickmode: 'array', tickvals: peilTicks, ticktext: peilTickText,
    showgrid: true, gridcolor: gridC, gridwidth: 1, mirror: true, ticklabelstandoff: 6
  }),
  legend: {orientation: 'h', x: 292/W, xanchor: 'left', y: 1 - 1168/H, yanchor: 'middle',
    font: {family: FONT, size: 28, color: '#000'}, bgcolor: 'rgba(0,0,0,0)',
    entrywidth: 533, entrywidthmode: 'pixels', itemclick: false, itemdoubleclick: false},
  annotations: [
    {text: 'gem. debiet (m<sup>3</sup>/sec)', xref: 'paper', yref: 'paper', x: 29/W, y: 1 - 265/H,
      textangle: -90, showarrow: false, xanchor: 'center', yanchor: 'middle',
      font: {family: FONT, size: 28, color: '#000'}},
    {text: 'gem. waterpeil (cm NAP)', xref: 'paper', yref: 'paper', x: 45/W, y: 1 - 835/H,
      textangle: -90, showarrow: false, xanchor: 'center', yanchor: 'middle',
      font: {family: FONT, size: 27.5, color: '#000'}}
  ]
};

Plotly.newPlot('chart', traces, layout, {staticPlot: true, displayModeBar: false});
</script>
</body>
</html>
